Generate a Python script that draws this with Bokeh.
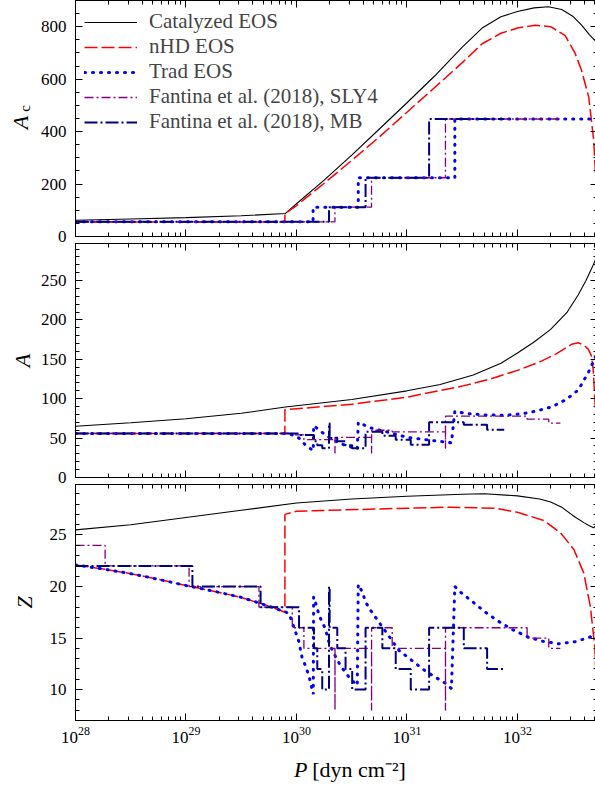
import numpy as np
from bokeh.plotting import figure
from bokeh.models import (FixedTicker, SingleIntervalTicker, LinearAxis, LogAxis,
                          Legend, LegendItem, Range1d, CustomJSTickFormatter)
from bokeh.core.properties import value
from bokeh.layouts import column, row
from bokeh.embed import file_html
from bokeh.resources import INLINE

FONT = "Liberation Serif"

# ---------------- x axis: log10(P / dyn cm^-2) ----------------
x_major_exponents = [28, 29, 30, 31, 32]
x_minor_mantissas = [2, 3, 4, 5, 6, 7, 8, 9]
x_log_min, x_log_max = 28.0, 32.724

# ---------------- Panel 1: A_c ----------------
cat_Ac_logP = [28.0, 28.5, 29.0, 29.5, 29.9, 30.0, 30.25, 30.5, 30.75, 31.0, 31.25, 31.5,
               31.68, 31.85, 32.0, 32.15, 32.28, 32.4, 32.5, 32.58, 32.65, 32.73]
cat_Ac = [62, 67, 72, 79, 88, 125, 215, 310, 410, 510, 612, 722,
          795, 838, 858, 872, 876, 866, 840, 806, 770, 735]

nhd_Ac_logP = [28.0, 29.895, 29.895, 30.0, 30.25, 30.5, 30.75, 31.0, 31.25, 31.5, 31.68,
               31.85, 32.0, 32.16, 32.3, 32.43, 32.52, 32.58, 32.645, 32.69, 32.705, 32.73]
nhd_Ac = [55, 55, 87, 118, 203, 290, 380, 474, 568, 663, 735,
          775, 795, 806, 800, 767, 700, 633, 531, 365, 244, 60]

trad_Ac_edges = [28.0, 30.15, 30.559, 31.433, 32.73]
trad_Ac = [56, 112, 224, 448]

sly_Ac_edges = [28.0, 30.348, 30.679, 31.348, 32.388]
sly_Ac = [56, 112, 224, 448]

mb_Ac_edges = [28.0, 30.294, 30.625, 31.20, 31.88]
mb_Ac = [56, 112, 224, 448]

# ---------------- Panel 2: A ----------------
cat_A_logP = [28.0, 28.5, 29.0, 29.5, 29.9, 30.5, 31.0, 31.3, 31.6, 31.85, 32.0, 32.15,
              32.3, 32.45, 32.55, 32.62, 32.68, 32.73]
cat_A = [65, 69.5, 74.5, 81.5, 89.5, 99, 110, 118, 130, 145, 158, 172,
         188, 210, 232, 250, 268, 285]

nhd_A_logP = [28.0, 29.895, 29.895, 30.5, 31.0, 31.137, 31.5, 31.74, 32.0, 32.19, 32.35,
              32.49, 32.55, 32.6, 32.64, 32.67, 32.685, 32.70, 32.715, 32.73]
nhd_A = [56, 56, 86, 93, 102, 106, 116, 124.5, 136, 146, 157,
         169, 171, 168, 163, 154, 137, 99, 60, 20]

trad_A_logP = [28.0, 29.93, 30.023, 30.082, 30.152, 30.155, 30.224, 30.294, 30.399, 30.55,
               30.559, 30.67, 30.842, 31.0, 31.167, 31.288, 31.402, 31.433, 31.55, 31.7,
               31.89, 32.05, 32.16, 32.31, 32.44, 32.55, 32.64, 32.69, 32.73]
trad_A = [56, 56, 50, 41, 34, 66, 58, 51, 43, 36,
          70, 63, 57, 51, 48, 46, 44, 84, 81, 79.5,
          79, 81, 84, 89.6, 99, 111, 133, 148, 162]

sly_edges = [28.0, 28.268, 29.028, 29.66, 29.962, 30.067, 30.348, 30.3485, 30.679, 30.6795,
             30.866, 31.348, 31.3485, 32.087, 32.283, 32.388]
sly_Z = [24, 22, 20, 18, 16, 14, 8, 14, 8, 16, 14, 8, 16, 15, 14]
sly_A = [56, 56, 56, 56, 54, 48, 31, 51, 31, 60, 58, 37, 78, 74, 69]

mb_edges = [28.0, 29.058, 29.675, 30.023, 30.158, 30.188, 30.233, 30.294, 30.300, 30.369,
            30.444, 30.504, 30.625, 30.777, 30.898, 31.034, 31.20, 31.514, 31.725, 31.88]
mb_Z = [22, 20, 18, 16, 14, 12, 10, 20, 16, 14, 12, 10, 16, 14, 12, 10, 16, 14, 12]
mb_A = [56, 56, 56, 54, 46, 41, 37, 69, 50, 46, 41, 37, 58, 53, 48, 41.5, 70, 67, 60.6]

# ---------------- Panel 3: Z ----------------
cat_Z_logP = [28.0, 28.5, 29.0, 29.5, 30.0, 30.5, 31.0, 31.5, 31.7, 32.0, 32.2, 32.3,
              32.4, 32.5, 32.6, 32.65, 32.69, 32.73]
cat_Z = [25.5, 26.0, 26.7, 27.4, 28.1, 28.5, 28.76, 28.95, 29.0, 28.8, 28.5, 28.2,
         27.7, 26.9, 26.2, 25.9, 25.7, 26.1]

nhd_Z_logP = [28.0, 28.25, 28.5, 28.75, 29.0, 29.25, 29.5, 29.75, 29.895, 29.895, 30.0,
              30.3, 31.0, 31.4, 31.8, 32.0, 32.24, 32.39, 32.51, 32.6, 32.66, 32.70,
              32.715, 32.73]
nhd_Z = [22.1, 21.7, 21.25, 20.7, 20.1, 19.55, 18.95, 18.1, 17.5, 27.0, 27.3,
         27.4, 27.6, 27.7, 27.6, 27.2, 26.4, 25.2, 23.6, 21.3, 18.0, 14.1,
         9.9, 5.0]

trad_Z_logP = [28.0, 28.25, 28.5, 28.75, 29.0, 29.25, 29.5, 29.75, 29.932, 30.023, 30.052,
               30.082, 30.113, 30.152, 30.155, 30.173, 30.197, 30.224, 30.258, 30.294,
               30.324, 30.399, 30.475, 30.55, 30.559, 30.589, 30.631, 30.67, 30.755,
               30.842, 30.927, 31.047, 31.167, 31.288, 31.348, 31.402, 31.433, 31.484,
               31.596, 31.71, 31.831, 31.958, 32.096, 32.222, 32.373, 32.523, 32.659, 32.73]
trad_Z = [22.1, 21.7, 21.25, 20.7, 20.1, 19.55, 18.95, 18.1, 17.4, 14.6, 13.0,
          12.3, 11.3, 9.55, 19.0, 18.4, 17.5, 16.7, 16.0, 14.6,
          13.8, 12.3, 11.2, 10.4, 20.2, 19.6, 18.4, 17.7, 16.4,
          15.1, 13.8, 12.8, 11.8, 11.0, 10.6, 10.1, 20.0, 19.45,
          18.5, 17.5, 16.6, 15.8, 15.1, 14.7, 14.45, 14.65, 15.1, 15.7]

legend_labels = ["Catalyzed EOS", "nHD EOS", "Trad EOS",
                 "Fantina et al. (2018), SLY4", "Fantina et al. (2018), MB"]

# ---------------- styles ----------------
S_CAT = dict(line_color="black", line_width=1.1)
S_NHD = dict(line_color="#ff0000", line_width=1.5, line_dash="13 4")
S_TRAD = dict(line_color="#0000ff", line_width=3, line_dash="1 7", line_cap="round")
S_SLY = dict(line_color="#800080", line_width=1.3, line_dash="9 3 2 3")
S_MB = dict(line_color="#000080", line_width=2, line_dash="13 3 2 3")

LABEL_W = 37          # width of the strip holding the y titles
LEFT_B = 36           # tick-label border of each panel
FRAME_W = 522
TOTAL_H = 782

major_x = [10.0 ** e for e in x_major_exponents]
minor_x = [m * 10.0 ** e for e in x_major_exponents for m in x_minor_mantissas]


def P(logp):
    return 10.0 ** np.asarray(logp, dtype=float)


def steps(edges, vals):
    xs, ys = [], []
    for i, v in enumerate(vals):
        xs += [edges[i], edges[i + 1]]
        ys += [v, v]
    return P(xs), np.asarray(ys, dtype=float)


def style_axis(ax, show_labels):
    ax.major_tick_in = 7
    ax.major_tick_out = 0
    ax.minor_tick_in = 4
    ax.minor_tick_out = 0
    ax.major_tick_line_color = "black"
    ax.minor_tick_line_color = "black"
    ax.axis_line_color = "black"
    ax.axis_label = None
    if show_labels:
        ax.major_label_text_font = FONT
        ax.major_label_text_font_size = "17px"
        ax.major_label_text_color = "black"
    else:
        ax.formatter = CustomJSTickFormatter(code="return ''")
        ax.major_label_text_font_size = "1px"
        ax.major_label_standoff = 0


def make_panel(y0, y1, interval, n_minor, frame_h, bottom, x_labels):
    p = figure(x_axis_type="log",
               x_range=Range1d(10 ** x_log_min, 10 ** x_log_max),
               y_range=Range1d(y0, y1),
               frame_width=FRAME_W, frame_height=frame_h,
               min_border_left=LEFT_B, min_border_right=0, min_border_top=0,
               min_border_bottom=bottom,
               output_backend="svg", toolbar_location=None)
    p.grid.visible = False
    p.outline_line_color = "black"
    p.outline_line_width = 1
    xt = FixedTicker(ticks=major_x, minor_ticks=minor_x)
    yt = SingleIntervalTicker(interval=interval, num_minor_ticks=n_minor)
    p.xaxis[0].ticker = xt
    p.yaxis[0].ticker = yt
    style_axis(p.xaxis[0], x_labels)
    style_axis(p.yaxis[0], True)
    if x_labels:
        p.xaxis[0].major_label_standoff = 6
    p.yaxis[0].major_label_standoff = 9
    top = LogAxis(ticker=xt)
    style_axis(top, False)
    p.add_layout(top, "above")
    right = LinearAxis(ticker=yt)
    style_axis(right, False)
    p.add_layout(right, "right")
    return p


p1 = make_panel(0, 900, 200, 4, 236, 7, False)
p2 = make_panel(0, 297, 50, 5, 234, 7, False)
p3 = make_panel(7, 29.9, 5, 5, 236, 30, True)

# ---- panel 1 ----
r_cat = p1.line(P(cat_Ac_logP), cat_Ac, **S_CAT)
r_nhd = p1.line(P(nhd_Ac_logP), nhd_Ac, **S_NHD)
x, y = steps(trad_Ac_edges, trad_Ac)
r_trad = p1.line(x, y, **S_TRAD)
x, y = steps(sly_Ac_edges, sly_Ac)
r_sly = p1.line(x, y, **S_SLY)
x, y = steps(mb_Ac_edges, mb_Ac)
r_mb = p1.line(x, y, **S_MB)

# ---- panel 2 ----
p2.line(P(cat_A_logP), cat_A, **S_CAT)
p2.line(P(nhd_A_logP), nhd_A, **S_NHD)
p2.line(P(trad_A_logP), trad_A, **S_TRAD)
x, y = steps(sly_edges, sly_A)
p2.line(x, y, **S_SLY)
x, y = steps(mb_edges, mb_A)
p2.line(x, y, **S_MB)

# ---- panel 3 ----
p3.line(P(cat_Z_logP), cat_Z, **S_CAT)
p3.line(P(nhd_Z_logP), nhd_Z, **S_NHD)
p3.line(P(trad_Z_logP), trad_Z, **S_TRAD)
x, y = steps(sly_edges, sly_Z)
p3.line(x, y, **S_SLY)
x, y = steps(mb_edges, mb_Z)
p3.line(x, y, **S_MB)

legend = Legend(items=[LegendItem(label=lab, renderers=[r]) for lab, r in
                       zip(legend_labels, [r_cat, r_nhd, r_trad, r_sly, r_mb])],
                location="top_left", border_line_alpha=0, background_fill_alpha=0,
                label_text_font=FONT, label_text_font_size="21px",
                label_text_line_height=1.0,
                glyph_width=53, glyph_height=20, label_height=20, spacing=-1,
                padding=9, margin=0, label_standoff=12)
p1.add_layout(legend)


# ---- title strips (texts in page pixel coordinates) ----
def blank_fig(w, h, xr, yr):
    f = figure(width=w, height=h, x_range=xr, y_range=yr, min_border=0,
               x_axis_location=None, y_axis_location=None,
               output_backend="svg", toolbar_location=None)
    f.grid.visible = False
    f.outline_line_color = None
    return f


def put_text(f, x, y, txt, size, style="normal", angle=0.0, align="center"):
    f.text(x=[x], y=[y], text=[txt], angle=angle, text_align=align,
           text_baseline="middle", text_font=value(FONT), text_font_size=size,
           text_font_style=style, text_color="black")


left = blank_fig(LABEL_W, TOTAL_H, Range1d(0, LABEL_W), Range1d(TOTAL_H, 0))
put_text(left, 20, 122, "A", "22px", "italic", np.pi / 2)
put_text(left, 24, 108, "c", "15px", "normal", np.pi / 2)
put_text(left, 21.5, 360, "A", "22px", "italic", np.pi / 2)
put_text(left, 24, 602, "Z", "22px", "italic", np.pi / 2)

bottom_h = TOTAL_H - (236 + 7 + 234 + 7 + 236 + 30)
bottom = blank_fig(LEFT_B + FRAME_W, bottom_h, Range1d(LABEL_W, 595), Range1d(bottom_h, 0))
put_text(bottom, 286, 19, "P", "22px", "italic", 0.0, "right")
put_text(bottom, 291, 19, "[dyn cm\u207b\u00b2]", "22px", "normal", 0.0, "left")

layout = row(left, column(p1, p2, p3, bottom, spacing=0), spacing=0)
open("out.html", "w").write(file_html(layout, INLINE))
